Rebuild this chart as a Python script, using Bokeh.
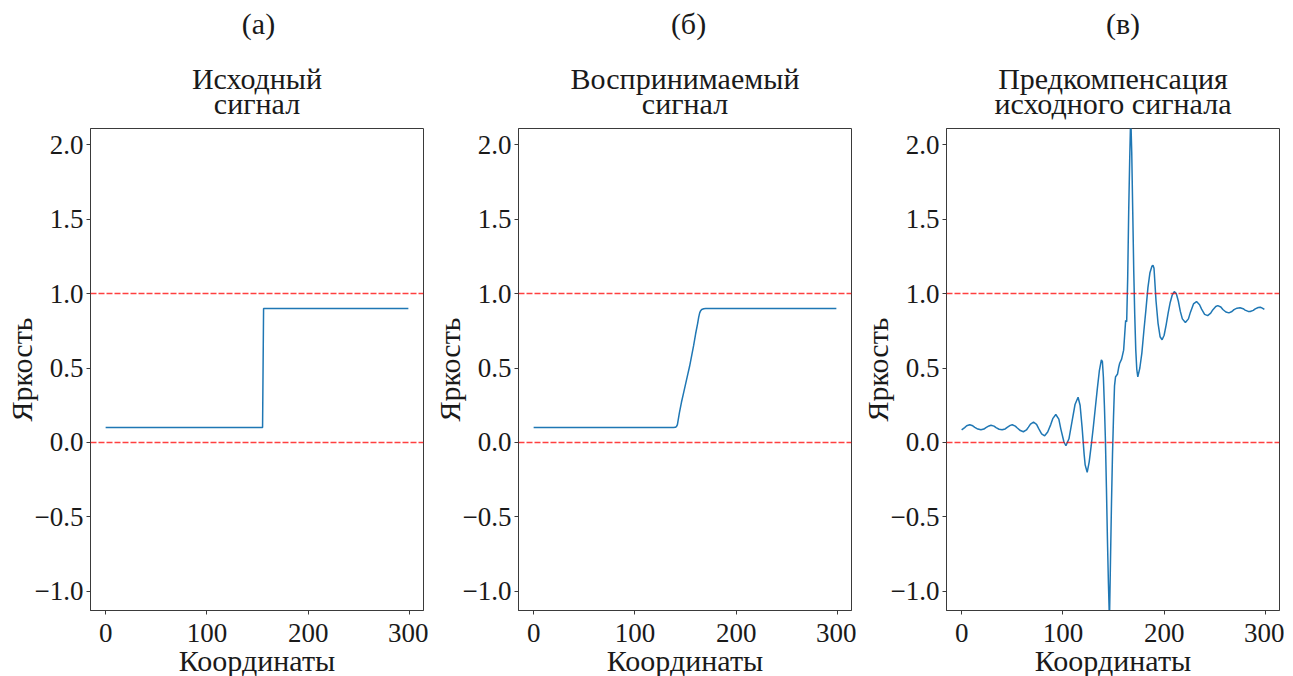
from bokeh.plotting import figure
from bokeh.layouts import row, column
from bokeh.models import Range1d, FixedTicker, CustomJSTickFormatter, Label, Span
from bokeh.embed import file_html
from bokeh.resources import INLINE

# ---------------- data ----------------
panel_letters = ["(а)", "(б)", "(в)"]
panel_titles = [["Исходный", "сигнал"],
                ["Воспринимаемый", "сигнал"],
                ["Предкомпенсация", "исходного сигнала"]]
x_label = "Координаты"
y_label = "Яркость"
x_ticks = [0, 100, 200, 300]
y_ticks = [-1.0, -0.5, 0.0, 0.5, 1.0, 1.5, 2.0]
ref_levels = [0.0, 1.0]

# (а) source signal
x_src = [0, 155, 156, 299]
y_src = [0.1, 0.1, 0.9, 0.9]

# (б) perceived signal
x_perc = [0, 138, 140, 141, 142, 143, 144, 146, 148, 150, 152, 154, 156, 158,
          160, 162, 163, 164, 165, 166, 168, 170, 299]
y_perc = [0.1, 0.1, 0.102, 0.106, 0.12, 0.16, 0.20, 0.27, 0.33, 0.39, 0.45, 0.51, 0.58, 0.65,
          0.73, 0.80, 0.84, 0.87, 0.885, 0.893, 0.898, 0.9, 0.9]

# (в) pre-compensated signal
x_comp = [0, 3, 5, 8, 11, 13, 16, 19, 22, 24, 27, 29, 32, 34, 37, 40, 43, 45, 48, 50,
          53, 55, 58, 61, 64, 66, 68, 71, 74, 76, 79, 82, 85, 88, 90, 93, 96, 98, 101, 103,
          106, 109, 112, 115, 117, 119, 121, 122, 124, 126, 128, 130, 132, 134, 136, 138, 139, 140,
          141, 142, 143, 144, 145, 146, 147, 148, 149, 150, 151, 152, 154, 155, 156, 158, 160,
          161, 162, 163, 164, 165, 166, 167, 168, 169, 170, 171, 172, 173, 174, 176, 178, 180,
          182, 184, 186, 188, 189, 190, 192, 194, 196, 198, 200, 202, 204, 206, 208, 210, 212,
          214, 216, 218, 221, 224, 226, 229, 232, 235, 237, 240, 243, 246, 248, 251, 253, 256,
          258, 261, 264, 267, 269, 272, 275, 278, 280, 283, 285, 288, 290, 293, 295, 297, 299]
y_comp = [0.085, 0.100, 0.112, 0.119, 0.112, 0.102, 0.090, 0.085, 0.090, 0.100, 0.111, 0.116,
          0.110, 0.100, 0.089, 0.085, 0.091, 0.102, 0.115, 0.119,
          0.110, 0.097, 0.080, 0.072, 0.084, 0.103, 0.123, 0.136, 0.122, 0.095, 0.058, 0.045,
          0.070, 0.120, 0.160, 0.188, 0.157, 0.090, 0.005, -0.022,
          0.025, 0.140, 0.255, 0.304, 0.250, 0.100, -0.080, -0.150, -0.200, -0.130, -0.020, 0.100,
          0.230, 0.360, 0.480, 0.555, 0.545, 0.440,
          0.250, 0.020, -0.300, -0.650, -0.950, -1.200, -0.800, -0.410, -0.080, 0.170, 0.380,
          0.440, 0.460, 0.500, 0.530, 0.560, 0.620,
          0.720, 0.820, 0.810, 1.100, 1.550, 1.900, 2.200, 1.950, 1.550, 1.150, 0.850, 0.620,
          0.490, 0.440, 0.500, 0.600, 0.750,
          0.890, 1.040, 1.140, 1.185, 1.190, 1.170, 0.950, 0.800, 0.710, 0.690, 0.720, 0.790,
          0.870, 0.940, 0.990, 1.013, 1.000,
          0.950, 0.880, 0.830, 0.805, 0.830, 0.875, 0.930, 0.946, 0.925, 0.895, 0.860, 0.852,
          0.868, 0.890, 0.913, 0.919, 0.910,
          0.893, 0.876, 0.870, 0.879, 0.892, 0.902, 0.904, 0.898, 0.889, 0.880, 0.879, 0.887,
          0.897, 0.906, 0.908, 0.902, 0.893]

series = [(x_src, y_src), (x_perc, y_perc), (x_comp, y_comp)]

# ---------------- style / layout ----------------
FONT = "Liberation Serif"
TXT = "#1a1a1a"
SPINE = "#3a3a3a"
X0, X1 = -14.95, 313.95
Y0, Y1 = -1.128, 2.108
FRAME_W, FRAME_H = 333, 482
BORDER_L, BORDER_R = 90, 5
FIG_W = BORDER_L + FRAME_W + BORDER_R
HEAD_H = 128
BORDER_B = 66
BASE_FIX = 12  # renderer puts the alphabetic baseline this much lower
frame_cx = BORDER_L + FRAME_W / 2
letter_cx = [258, 260, 266.5]  # centres of panel letters inside each header

fmt_y = CustomJSTickFormatter(code="""
    return (tick < 0 ? "\u2212" : "") + Math.abs(tick).toFixed(1);
""")
fmt_x = CustomJSTickFormatter(code="return tick.toFixed(0);")

heads = []
figs = []
for i in range(3):
    # header with panel letter and two-line title
    h = figure(width=FIG_W, height=HEAD_H, x_range=Range1d(0, FIG_W),
               y_range=Range1d(0, HEAD_H), min_border=0,
               x_axis_location=None, y_axis_location=None,
               output_backend="svg", toolbar_location=None, tools="")
    h.outline_line_color = None
    h.xgrid.visible = False
    h.ygrid.visible = False
    h.add_layout(Label(x=letter_cx[i], y=HEAD_H - 35 + BASE_FIX, text=panel_letters[i],
                       text_align="center", text_baseline="alphabetic",
                       text_font=FONT, text_font_size="30px", text_color=TXT))
    for line_txt, base in zip(panel_titles[i], (90, 115)):
        h.add_layout(Label(x=frame_cx, y=HEAD_H - base + BASE_FIX, text=line_txt,
                           text_align="center", text_baseline="alphabetic",
                           text_font=FONT, text_font_size="30px", text_color=TXT))
    heads.append(h)

    p = figure(frame_width=FRAME_W, frame_height=FRAME_H,
               min_border_left=BORDER_L, min_border_right=BORDER_R,
               min_border_top=0, min_border_bottom=BORDER_B,
               x_range=Range1d(X0, X1), y_range=Range1d(Y0, Y1),
               output_backend="svg", toolbar_location=None, tools="")
    p.background_fill_color = "white"
    p.border_fill_color = "white"
    p.outline_line_color = SPINE
    p.outline_line_width = 1
    p.xgrid.visible = False
    p.ygrid.visible = False

    for ax in (p.xaxis[0], p.yaxis[0]):
        ax.axis_line_color = SPINE
        ax.major_tick_line_color = SPINE
        ax.major_tick_out = 4
        ax.major_tick_in = 0
        ax.minor_tick_line_color = None
        ax.major_label_text_font = FONT
        ax.major_label_text_font_size = "27px"
        ax.major_label_text_color = TXT
        ax.axis_label_text_font = FONT
        ax.axis_label_text_font_size = "30px"
        ax.axis_label_text_font_style = "normal"
        ax.axis_label_text_color = TXT

    p.xaxis[0].ticker = FixedTicker(ticks=x_ticks)
    p.xaxis[0].formatter = fmt_x
    p.xaxis[0].axis_label = x_label
    p.xaxis[0].major_label_standoff = 9
    p.xaxis[0].axis_label_standoff = -1

    p.yaxis[0].ticker = FixedTicker(ticks=y_ticks)
    p.yaxis[0].formatter = fmt_y
    p.yaxis[0].axis_label = y_label
    p.yaxis[0].major_label_standoff = 3
    p.yaxis[0].axis_label_standoff = -6

    for lv in ref_levels:
        p.add_layout(Span(location=lv, dimension="width", line_color="red",
                          line_alpha=0.75, line_width=1.5, line_dash="6 2"))

    xs, ys = series[i]
    p.line(xs, ys, line_color="#1f77b4", line_width=1.5)
    figs.append(p)

layout = column(row(*heads, spacing=0), row(*figs, spacing=0), spacing=0)
open("out.html", "w").write(file_html(layout, INLINE))
